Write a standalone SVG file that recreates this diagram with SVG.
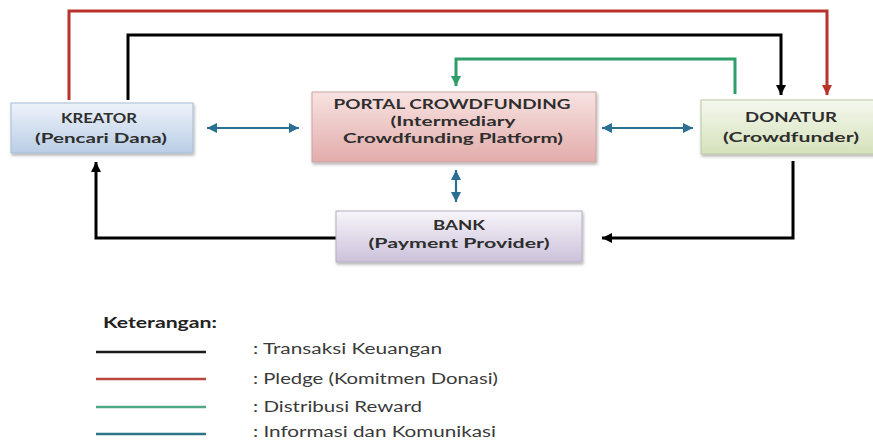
<svg xmlns="http://www.w3.org/2000/svg" width="873" height="446" viewBox="0 0 873 446">
  <style>
    .box { stroke-width: 1; filter: url(#shadow); }
    .lbl { font-family: Lato, "Open Sans", "Liberation Sans", sans-serif; font-size: 14px; font-weight: bold; fill: #2e2e2e; text-anchor: middle; }
    .leg { font-family: Lato, "Open Sans", "Liberation Sans", sans-serif; font-size: 15.5px; fill: #3a3a3a; }
    .ttl { font-family: Lato, "Open Sans", "Liberation Sans", sans-serif; font-size: 14.5px; font-weight: bold; fill: #222; }
    .k { fill: none; stroke: #000; stroke-width: 3; }
    .r { fill: none; stroke: #b8322a; stroke-width: 3; }
    .g { fill: none; stroke: #2f9d6a; stroke-width: 3; }
    .b { fill: none; stroke: #2b6e93; stroke-width: 2.2; }
  </style>
  <defs>
    <filter id="shadow" x="-10%" y="-20%" width="125%" height="150%">
      <feDropShadow dx="1" dy="2" stdDeviation="1.5" flood-color="#000" flood-opacity="0.3"/>
    </filter>
    <linearGradient id="gBlue" x1="0" y1="0" x2="0" y2="1">
      <stop offset="0" stop-color="#eef3fa"/>
      <stop offset="1" stop-color="#b9cde5"/>
    </linearGradient>
    <linearGradient id="gPink" x1="0" y1="0" x2="0" y2="1">
      <stop offset="0" stop-color="#f8e3e2"/>
      <stop offset="1" stop-color="#e2acaa"/>
    </linearGradient>
    <linearGradient id="gGreen" x1="0" y1="0" x2="0" y2="1">
      <stop offset="0" stop-color="#f5f8ee"/>
      <stop offset="1" stop-color="#d5e2bb"/>
    </linearGradient>
    <linearGradient id="gPurple" x1="0" y1="0" x2="0" y2="1">
      <stop offset="0" stop-color="#f7f5fa"/>
      <stop offset="1" stop-color="#ccc1db"/>
    </linearGradient>
    <marker id="aK" markerUnits="userSpaceOnUse" markerWidth="11" markerHeight="10" refX="10" refY="5" orient="auto">
      <path d="M0,0 L10,5 L0,10 Z" fill="#000"/>
    </marker>
    <marker id="aR" markerUnits="userSpaceOnUse" markerWidth="11" markerHeight="10" refX="10" refY="5" orient="auto">
      <path d="M0,0 L10,5 L0,10 Z" fill="#b8322a"/>
    </marker>
    <marker id="aG" markerUnits="userSpaceOnUse" markerWidth="11" markerHeight="10" refX="10" refY="5" orient="auto">
      <path d="M0,0 L10,5 L0,10 Z" fill="#2f9d6a"/>
    </marker>
    <marker id="aB" markerUnits="userSpaceOnUse" markerWidth="11" markerHeight="10" refX="10" refY="5" orient="auto-start-reverse">
      <path d="M0,0 L10,5 L0,10 Z" fill="#2b6e93"/>
    </marker>
  </defs>

  <rect width="873" height="446" fill="#fff"/>

  <!-- connectors -->
  <g id="connectors">
    <!-- pledge: kreator to donatur -->
    <path class="r" d="M69,100 V11 H827 V95" marker-end="url(#aR)"/>
    <!-- funds: kreator to donatur -->
    <path class="k" d="M128,100 V35 H781 V95" marker-end="url(#aK)"/>
    <!-- reward distribution: donatur to portal -->
    <path class="g" d="M735,94 V59 H456 V86" marker-end="url(#aG)"/>
    <!-- information links -->
    <path class="b" d="M207,128 H299" marker-start="url(#aB)" marker-end="url(#aB)"/>
    <path class="b" d="M602,128 H693" marker-start="url(#aB)" marker-end="url(#aB)"/>
    <path class="b" d="M456,170 V202" marker-start="url(#aB)" marker-end="url(#aB)"/>
    <!-- funds through the bank -->
    <path class="k" d="M336,238 H96 V162" marker-end="url(#aK)"/>
    <path class="k" d="M793,161 V238 H602" marker-end="url(#aK)"/>
  </g>

  <!-- nodes -->
  <g id="kreator">
    <rect class="box" x="11" y="103" width="182" height="50" fill="url(#gBlue)" stroke="#a6bbd5"/>
    <text class="lbl" x="99" y="123" textLength="76" lengthAdjust="spacingAndGlyphs">KREATOR</text>
    <text class="lbl" x="101" y="143" textLength="132" lengthAdjust="spacingAndGlyphs">(Pencari Dana)</text>
  </g>

  <g id="portal">
    <rect class="box" x="312" y="92" width="284" height="70" fill="url(#gPink)" stroke="#c9a3a2"/>
    <text class="lbl" x="452" y="109" textLength="237" lengthAdjust="spacingAndGlyphs">PORTAL CROWDFUNDING</text>
    <text class="lbl" x="453" y="126" textLength="125" lengthAdjust="spacingAndGlyphs">(Intermediary</text>
    <text class="lbl" x="453" y="143" textLength="220" lengthAdjust="spacingAndGlyphs">Crowdfunding Platform)</text>
  </g>

  <g id="donatur">
    <rect class="box" x="701" y="100" width="182" height="54" fill="url(#gGreen)" stroke="#b9c8a2"/>
    <text class="lbl" x="791" y="122" textLength="92" lengthAdjust="spacingAndGlyphs">DONATUR</text>
    <text class="lbl" x="791" y="142" textLength="136" lengthAdjust="spacingAndGlyphs">(Crowdfunder)</text>
  </g>

  <g id="bank">
    <rect class="box" x="336" y="211" width="246" height="51" fill="url(#gPurple)" stroke="#b5aec2"/>
    <text class="lbl" x="459" y="230" textLength="52" lengthAdjust="spacingAndGlyphs">BANK</text>
    <text class="lbl" x="459" y="248" textLength="181" lengthAdjust="spacingAndGlyphs">(Payment Provider)</text>
  </g>

  <!-- legend -->
  <g id="legend">
    <text class="ttl" x="103" y="328" textLength="114" lengthAdjust="spacingAndGlyphs">Keterangan:</text>
    <line x1="96" y1="352" x2="206" y2="352" stroke="#1a1a1a" stroke-width="2.5"/>
    <line x1="96" y1="379" x2="206" y2="379" stroke="#b8463f" stroke-width="2.5"/>
    <line x1="96" y1="407" x2="206" y2="407" stroke="#4fa986" stroke-width="2.5"/>
    <line x1="96" y1="434" x2="206" y2="434" stroke="#2c7487" stroke-width="2.5"/>
    <text class="leg" x="253" y="354" textLength="189" lengthAdjust="spacingAndGlyphs">: Transaksi Keuangan</text>
    <text class="leg" x="253" y="384" textLength="245" lengthAdjust="spacingAndGlyphs">: Pledge (Komitmen Donasi)</text>
    <text class="leg" x="253" y="412" textLength="169" lengthAdjust="spacingAndGlyphs">: Distribusi Reward</text>
    <text class="leg" x="253" y="437" textLength="243" lengthAdjust="spacingAndGlyphs">: Informasi dan Komunikasi</text>
  </g>
</svg>
